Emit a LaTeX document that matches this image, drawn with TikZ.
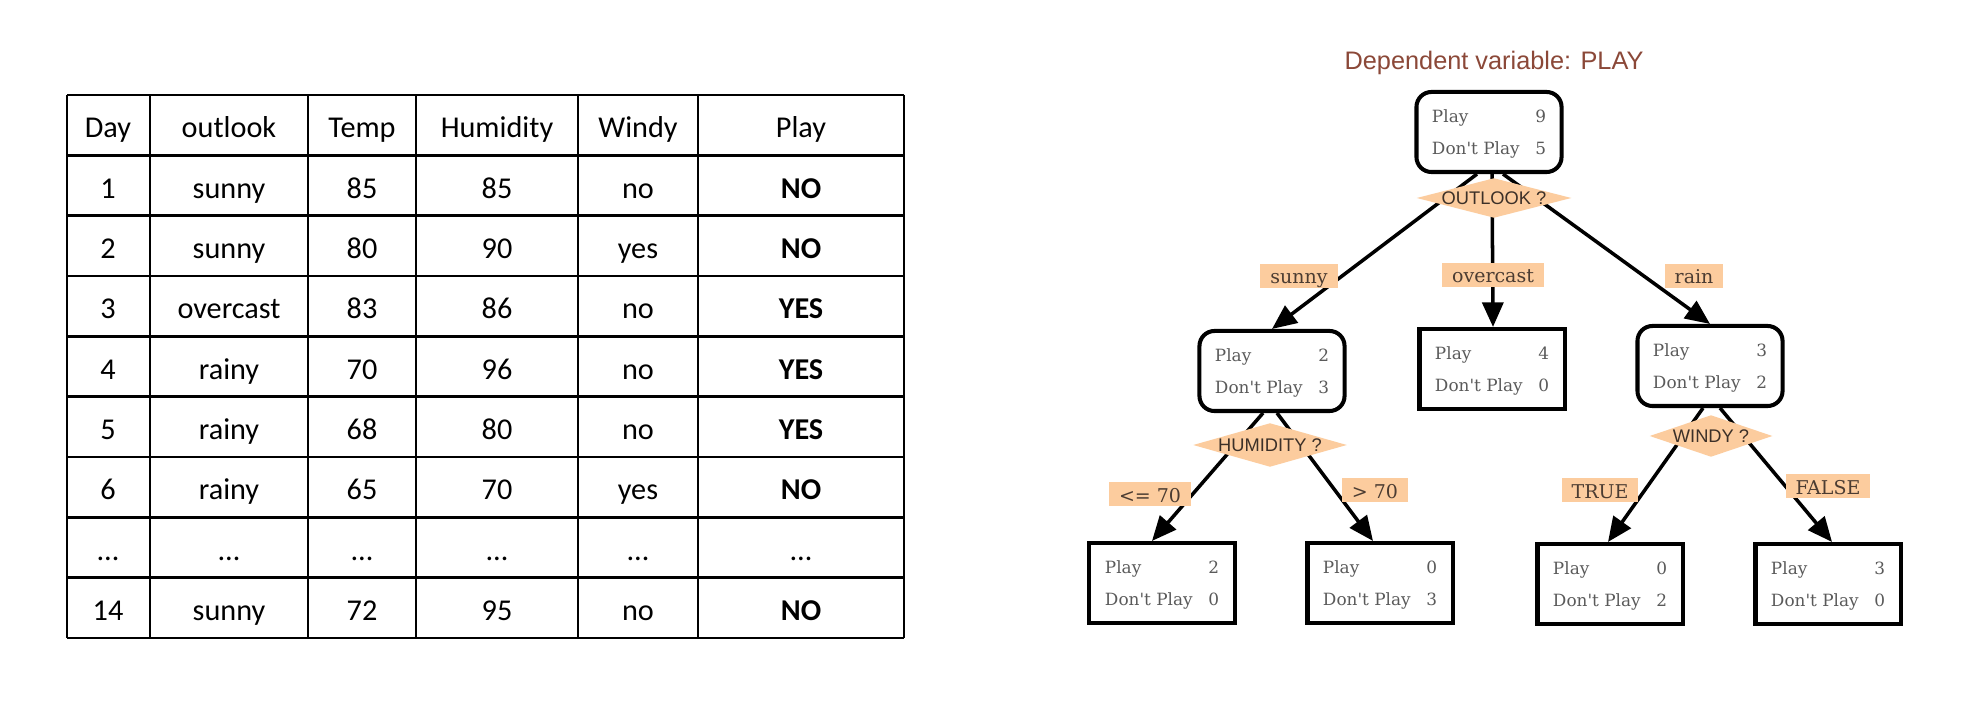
\documentclass[tikz,border=0pt]{standalone}
\usepackage{fontspec}
\setmainfont{Carlito}
\newfontfamily\treefont{DejaVu Serif}
\newfontfamily\qfont{Liberation Sans}
\usetikzlibrary{shapes.geometric,arrows.meta}
\definecolor{peach}{RGB}{252,204,158}
\definecolor{titlebrown}{RGB}{139,72,56}
\definecolor{boxgray}{RGB}{90,90,90}
\definecolor{labelink}{RGB}{75,60,50}
\tikzset{
  tabline/.style={line width=0.8pt},
  cell/.style={anchor=base, inner sep=0pt, font=\fontsize{8.6}{10.3}\selectfont},
  split/.style={draw, line width=1.15pt, fill=white, minimum width=1.45cm, minimum height=0.8cm, inner sep=0pt, rounded corners=0.15cm, text=boxgray, font=\treefont\fontsize{4.8}{9.1}\selectfont},
  leaf/.style={split, sharp corners},
  test/.style={diamond, fill=peach, inner sep=0pt, text=labelink!80!black, font=\qfont\fontsize{5.2}{6}\selectfont},
  branch/.style={fill=peach, inner xsep=0.1cm, inner ysep=0pt, text height=0.16cm, text depth=0cm, minimum height=0.24cm, text=labelink, font=\treefont\fontsize{5.4}{6.5}\selectfont},
  arc/.style={line width=1pt, -{Triangle[length=7pt,width=6pt]}}
}
\newcommand{\counts}[2]{\begin{tabular*}{1.14cm}{@{}l@{\extracolsep{\fill}}r@{}}Play & #1\\ Don't Play & #2\end{tabular*}}

\begin{document}
\begin{tikzpicture}[x=0.01cm,y=-0.01cm]
\fill[white] (0,0) rectangle (1976,716);
\useasboundingbox (0,0) rectangle (1976,716);

\foreach \x in {67,150,308,416,578,698,904}
  \draw[tabline] (\x,95) -- (\x,638);
\foreach \i in {0,...,9}
  \draw[tabline] (67,{95+60.33*\i}) -- (904,{95+60.33*\i});
\foreach \d/\o/\t/\h/\w/\p [count=\i from 0] in {Day/outlook/Temp/Humidity/Windy/Play,
    1/sunny/85/85/no/\textbf{NO}, 2/sunny/80/90/yes/\textbf{NO}, 3/overcast/83/86/no/\textbf{YES},
    4/rainy/70/96/no/\textbf{YES}, 5/rainy/68/80/no/\textbf{YES}, 6/rainy/65/70/yes/\textbf{NO},
    …/…/…/…/…/…, 14/sunny/72/95/no/\textbf{NO}} {
  \pgfmathsetmacro\yb{95+60.33*\i+42.7}
  \node[cell] (day-\i) at (108,\yb) {\d};
  \node[cell] (outlook-\i) at (229,\yb) {\o};
  \node[cell] (temp-\i) at (362,\yb) {\t};
  \node[cell] (hum-\i) at (497,\yb) {\h};
  \node[cell] (windy-\i) at (638,\yb) {\w};
  \node[cell] (play-\i) at (801,\yb) {\p};
}

\node[font=\qfont\fontsize{7.2}{8.6}\selectfont, text=titlebrown] (title) at (1494,63) {Dependent variable: PLAY};
\node[split] (root) at (1489,132) {\counts{9}{5}};
\node[split] (sunnybox) at (1272,371) {\counts{2}{3}};
\node[leaf] (overbox) at (1492,369) {\counts{4}{0}};
\node[split] (rainbox) at (1710,366) {\counts{3}{2}};
\node[leaf] (humlow) at (1162,583) {\counts{2}{0}};
\node[leaf] (humhigh) at (1380,583) {\counts{0}{3}};
\node[leaf] (windtrue) at (1610,584) {\counts{0}{2}};
\node[leaf] (windfalse) at (1828,584) {\counts{3}{0}};

\draw[arc] ([xshift=-0.12cm]root.south) -- (sunnybox.north);
\draw[arc] ([xshift=0.03cm]root.south) -- ([xshift=0.01cm]overbox.north);
\draw[arc] ([xshift=0.14cm]root.south) -- (rainbox.north);
\draw[arc] ([xshift=-0.09cm]sunnybox.south) -- ([xshift=-0.1cm]humlow.north);
\draw[arc] ([xshift=0.05cm]sunnybox.south) -- ([xshift=-0.07cm]humhigh.north);
\draw[arc] ([xshift=-0.07cm]rainbox.south) -- ([xshift=-0.02cm]windtrue.north);
\draw[arc] ([xshift=0.1cm]rainbox.south) -- ([xshift=0.04cm]windfalse.north);

\node[test, minimum width=1.55cm, minimum height=0.4cm] (outlook) at (1494,198) {\makebox[0pt]{OUTLOOK ?}};
\node[test, minimum width=1.54cm, minimum height=0.44cm] (humidity) at (1270,445) {\makebox[0pt]{HUMIDITY ?}};
\node[test, minimum width=1.23cm, minimum height=0.42cm] (windy) at (1711,436) {\makebox[0pt]{WINDY ?}};

\node[branch] (lsunny) at (1299,276) {sunny};
\node[branch] (lover) at (1493,275) {overcast};
\node[branch] (lrain) at (1694,276) {rain};
\node[branch] (llow) at (1150,494) {<= 70};
\node[branch] (lhigh) at (1375,490) {> 70};
\node[branch] (ltrue) at (1600,490) {TRUE};
\node[branch] (lfalse) at (1828,486) {FALSE};
\end{tikzpicture}
\end{document}
